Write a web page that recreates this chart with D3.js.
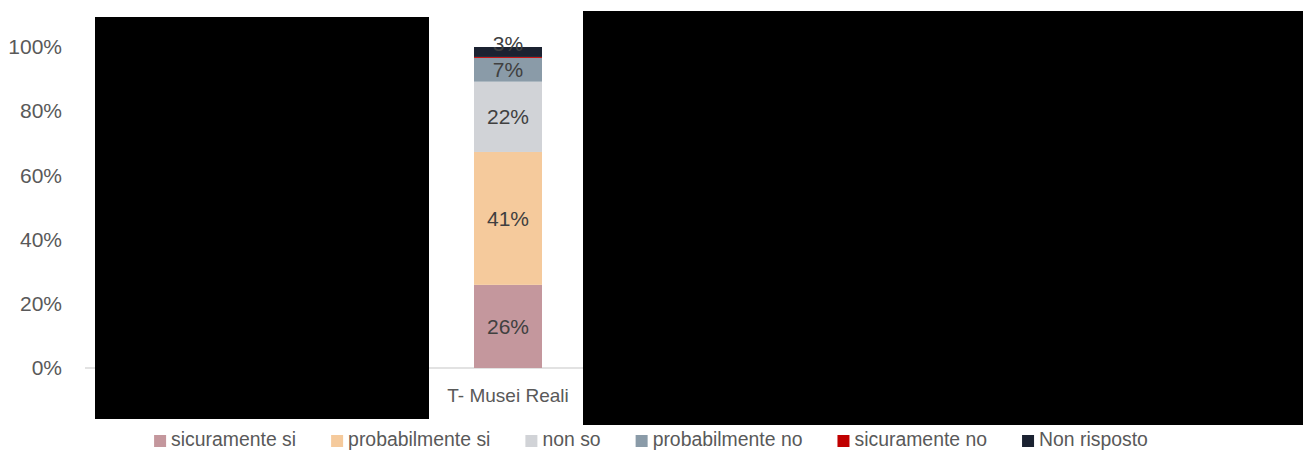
<!DOCTYPE html>
<html>
<head>
<meta charset="utf-8">
<script src="https://cdn.jsdelivr.net/npm/d3@7"></script>
<style>
  html, body { margin: 0; padding: 0; background: #fff; }
  svg { display: block; font-family: "Liberation Sans", Arial, sans-serif; }
</style>
</head>
<body>
<svg id="chart" width="1303" height="451"></svg>
<script>
// Survey answers, share of respondents (%)
const categories = ["T- Musei Reali"];
const seriesNames = ["sicuramente si", "probabilmente si", "non so", "probabilmente no", "sicuramente no", "Non risposto"];
const seriesColors = ["#c4979d", "#f5ca9c", "#d1d3d7", "#8a9ba8", "#c00000", "#1b2231"];
const sicuramenteSi = [25.9];
const probabilmenteSi = [41.4];
const nonSo = [21.9];
const probabilmenteNo = [7.4];
const sicuramenteNo = [0.3];
const nonRisposto = [3.1];
const yTicks = [0, 20, 40, 60, 80, 100];

const seriesValues = [sicuramenteSi, probabilmenteSi, nonSo, probabilmenteNo, sicuramenteNo, nonRisposto];
const rows = categories.map((c, i) => {
  const r = { category: c };
  seriesNames.forEach((s, k) => { r[s] = seriesValues[k][i]; });
  return r;
});

const svg = d3.select("#chart");

const y = d3.scaleLinear().domain([0, 100]).range([368, 47]);
const x = d3.scaleBand().domain(categories).range([440, 576]).paddingInner(0).paddingOuter(0.5);
const color = d3.scaleOrdinal().domain(seriesNames).range(seriesColors);

// value axis labels
const yAxis = d3.axisLeft(y).tickValues(yTicks).tickFormat(d => d + "%").tickSize(0).tickPadding(0);
const gy = svg.append("g").attr("transform", "translate(62,0)").call(yAxis);
gy.select(".domain").remove();
gy.selectAll("text")
  .attr("fill", "#595959")
  .style("font-size", "21px")
  .style("font-family", "'Liberation Sans', Arial, sans-serif");

// baseline
svg.append("line")
  .attr("x1", 85).attr("x2", 1290)
  .attr("y1", y(0)).attr("y2", y(0))
  .attr("stroke", "#d9d9d9").attr("stroke-width", 1.5);

// stacked bars
const stacked = d3.stack().keys(seriesNames)(rows);
const layers = svg.append("g").selectAll("g").data(stacked).join("g")
  .attr("fill", d => color(d.key));
layers.selectAll("rect").data(d => d).join("rect")
  .attr("x", d => x(d.data.category))
  .attr("width", x.bandwidth())
  .attr("y", d => y(d[1]))
  .attr("height", d => y(d[0]) - y(d[1]));

// value labels inside segments
const labels = svg.append("g");
stacked.forEach(layer => {
  layer.forEach(d => {
    const v = d[1] - d[0];
    if (v < 1) return;
    const h = y(d[0]) - y(d[1]);
    const cy = (y(d[0]) + y(d[1])) / 2 - (h < 16 ? 8 : 0);
    labels.append("text")
      .attr("x", x(d.data.category) + x.bandwidth() / 2)
      .attr("y", cy)
      .attr("dy", "0.35em")
      .attr("text-anchor", "middle")
      .attr("fill", "#404040")
      .style("font-size", "21px")
      .text(Math.round(v) + "%");
  });
});

// category axis labels
const xAxis = d3.axisBottom(x).tickSize(0).tickPadding(0);
const gx = svg.append("g").attr("transform", `translate(0,${y(0) + 27})`).call(xAxis);
gx.select(".domain").remove();
gx.selectAll("text")
  .attr("dy", "0.35em")
  .attr("fill", "#595959")
  .style("font-size", "19px")
  .style("font-family", "'Liberation Sans', Arial, sans-serif");

// cover boxes
svg.append("rect").attr("x", 95).attr("y", 17).attr("width", 334).attr("height", 402).attr("fill", "#000");
svg.append("rect").attr("x", 583).attr("y", 11).attr("width", 720).attr("height", 414).attr("fill", "#000");

// legend
const legend = svg.append("g");
const items = legend.selectAll("g").data(seriesNames).join("g");
items.append("rect").attr("width", 12).attr("height", 12).attr("y", 435).attr("fill", d => color(d));
items.append("text")
  .attr("x", 17).attr("y", 446)
  .attr("fill", "#595959")
  .style("font-size", "19.4px")
  .text(d => d);
const gap = 35;
const widths = [];
items.each(function () { widths.push(17 + d3.select(this).select("text").node().getComputedTextLength()); });
const total = d3.sum(widths) + gap * (widths.length - 1);
let cx = 651 - total / 2;
items.each(function (d, i) {
  d3.select(this).attr("transform", `translate(${cx},0)`);
  cx += widths[i] + gap;
});
</script>
</body>
</html>
